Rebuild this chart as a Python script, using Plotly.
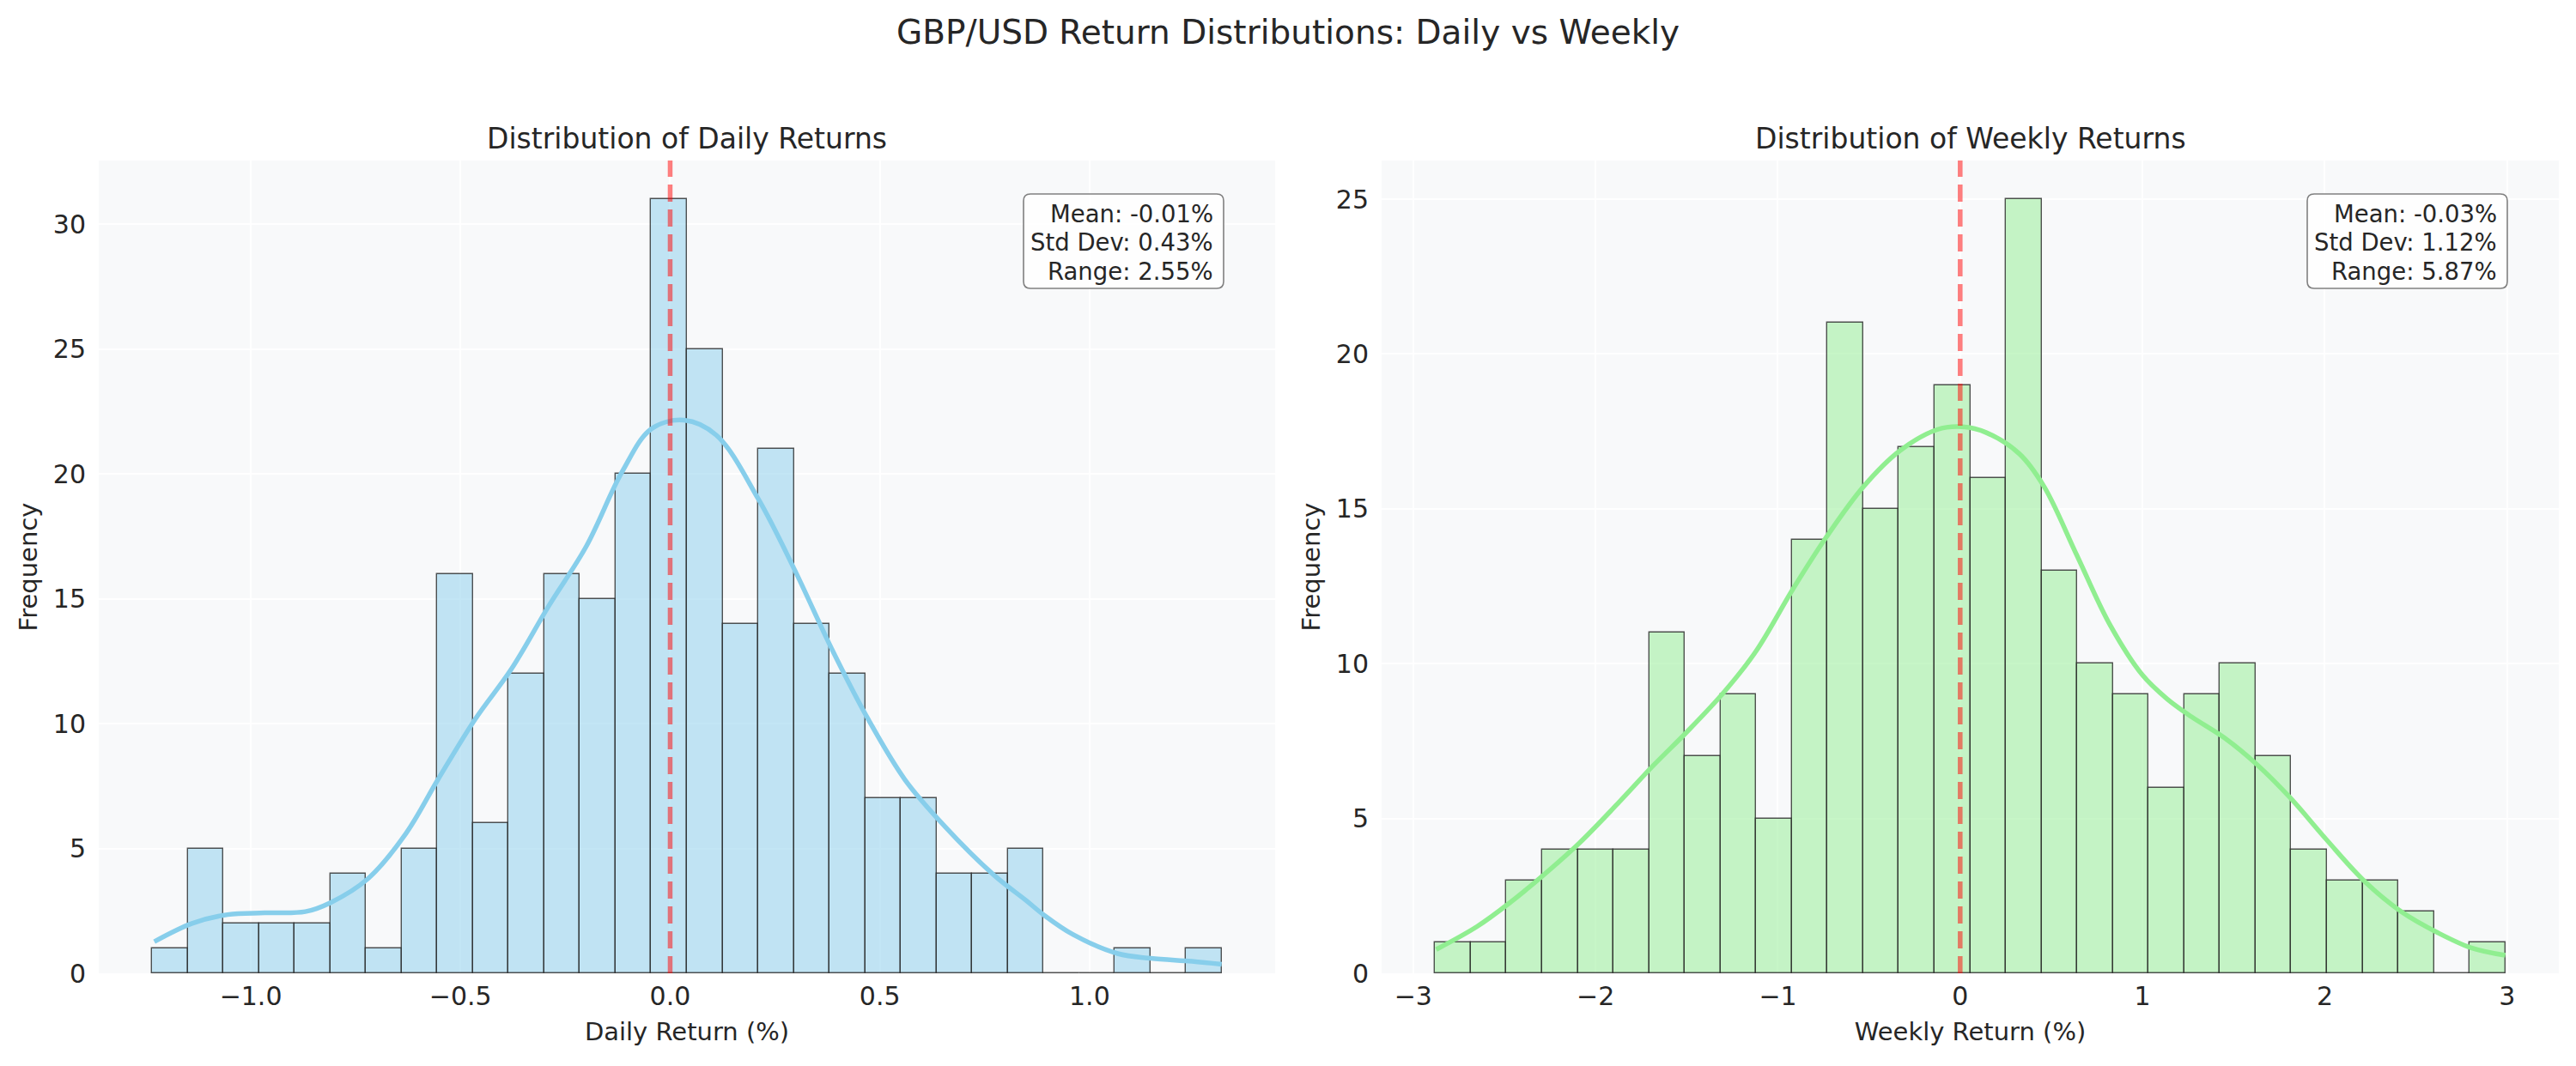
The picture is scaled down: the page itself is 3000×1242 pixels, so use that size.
import numpy as np
import plotly.graph_objects as go

# ---------------- data ----------------
daily_min, daily_max = -1.235, 1.315
daily_counts = [1, 5, 2, 2, 2, 4, 1, 5, 16, 6, 12, 16, 15, 20, 31, 25, 14, 21, 14, 12,
                7, 7, 4, 4, 5, 0, 0, 1, 0, 1]
weekly_min, weekly_max = -2.88, 2.99
weekly_counts = [1, 1, 3, 4, 4, 4, 11, 7, 9, 5, 14, 21, 15, 17, 19, 16, 25, 13, 10, 9,
                 6, 9, 10, 7, 4, 3, 3, 2, 0, 1]

daily_kde_x = [-1.23, -1.14, -1.055, -0.967, -0.87, -0.81, -0.72, -0.63, -0.554, -0.466,
               -0.378, -0.29, -0.20, -0.114, -0.045, 0.033, 0.11, 0.21, 0.297, 0.385,
               0.473, 0.56, 0.654, 0.771, 0.85, 0.89, 0.961, 1.067, 1.146, 1.244, 1.315]
daily_kde_y = [1.27, 2.0, 2.35, 2.42, 2.47, 2.83, 3.8, 5.6, 7.75, 10.15,
               12.2, 14.7, 17.1, 20.1, 21.8, 22.15, 21.55, 19.0, 16.15, 13.0,
               10.15, 7.75, 5.9, 3.95, 2.9, 2.35, 1.55, 0.79, 0.6, 0.48, 0.36]

weekly_kde_x = [-2.874, -2.65, -2.47, -2.29, -2.09, -1.88, -1.68, -1.50, -1.30, -1.12,
                -0.915, -0.735, -0.53, -0.33, -0.126, 0.01, 0.144, 0.324, 0.46, 0.64,
                0.82, 1.0, 1.135, 1.27, 1.45, 1.63, 1.81, 2.01, 2.22, 2.42, 2.62, 2.80, 2.99]
weekly_kde_y = [0.77, 1.51, 2.28, 3.15, 4.2, 5.47, 6.73, 7.79, 9.05, 10.4,
                12.43, 14.08, 15.72, 16.88, 17.56, 17.65, 17.46, 16.78, 15.72, 13.5,
                11.27, 9.63, 8.86, 8.28, 7.6, 6.73, 5.67, 4.31, 2.96, 1.99, 1.31, 0.83, 0.58]

daily_stats = ["Mean: -0.01%", "Std Dev: 0.43%", "Range: 2.55%"]
weekly_stats = ["Mean: -0.03%", "Std Dev: 1.12%", "Range: 5.87%"]

titles = ["Distribution of Daily Returns", "Distribution of Weekly Returns"]
xlabels = ["Daily Return (%)", "Weekly Return (%)"]
suptitle = "GBP/USD Return Distributions: Daily vs Weekly"

# ---------------- figure ----------------
W, H = 3000, 1242
ML, MR, MT, MB = 115, 20, 187, 108
pw = W - ML - MR
ph = H - MT - MB
FONT = "DejaVu Sans"
TXT = "#262626"
BG = "#F8F9FA"


def px_x(p):
    return (p - ML) / pw


def px_y(p):
    return (H - MB - p) / ph


dom1 = [0, px_x(1485)]
dom2 = [px_x(1609), 1]

fig = go.Figure()


def add_hist(vmin, vmax, counts, xa, ya, fill, line_color, kx, ky):
    edges = np.linspace(vmin, vmax, len(counts) + 1)
    centers = (edges[:-1] + edges[1:]) / 2
    width = edges[1] - edges[0]
    fig.add_trace(go.Bar(
        x=centers, y=counts, width=width, xaxis=xa, yaxis=ya,
        marker=dict(color=fill, line=dict(color="rgba(40,40,40,0.8)", width=1.4)),
        showlegend=False, hoverinfo="x+y"))
    fig.add_trace(go.Scatter(
        x=kx, y=ky, mode="lines", xaxis=xa, yaxis=ya,
        line=dict(color=line_color, width=5.5, shape="spline", smoothing=1.0),
        showlegend=False))


add_hist(daily_min, daily_max, daily_counts, "x", "y",
         "rgba(135,206,235,0.5)", "#87CEEB", daily_kde_x, daily_kde_y)
add_hist(weekly_min, weekly_max, weekly_counts, "x2", "y2",
         "rgba(144,238,144,0.5)", "#90EE90", weekly_kde_x, weekly_kde_y)

d_pad = 0.05 * (daily_max - daily_min)
w_pad = 0.05 * (weekly_max - weekly_min)

axis_common = dict(
    showline=False, zeroline=False, showgrid=True, gridcolor="#FFFFFF", gridwidth=2,
    tickfont=dict(family=FONT, size=30, color=TXT), ticks="", automargin=False,
)
lab_font = dict(family=FONT, size=29, color=TXT)

fig.update_layout(
    width=W, height=H,
    margin=dict(l=ML, r=MR, t=MT, b=MB, autoexpand=False),
    paper_bgcolor="white", plot_bgcolor=BG,
    bargap=0,
    font=dict(family=FONT, color=TXT),
    xaxis=dict(domain=dom1, anchor="y", range=[daily_min - d_pad, daily_max + d_pad],
               tickvals=[-1.0, -0.5, 0.0, 0.5, 1.0],
               ticktext=["\u22121.0", "\u22120.5", "0.0", "0.5", "1.0"],
               ticklabelstandoff=6,
               title=dict(text=xlabels[0], font=lab_font, standoff=14),
               **axis_common),
    yaxis=dict(domain=[0, 1], anchor="x", range=[0, max(daily_counts) * 1.05],
               tickvals=[0, 5, 10, 15, 20, 25, 30], ticklabelstandoff=14,
               title=dict(text="Frequency", font=lab_font, standoff=9),
               **axis_common),
    xaxis2=dict(domain=dom2, anchor="y2", range=[weekly_min - w_pad, weekly_max + w_pad],
                tickvals=[-3, -2, -1, 0, 1, 2, 3],
                ticktext=["\u22123", "\u22122", "\u22121", "0", "1", "2", "3"],
                ticklabelstandoff=6,
                title=dict(text=xlabels[1], font=lab_font, standoff=14),
                **axis_common),
    yaxis2=dict(domain=[0, 1], anchor="x2", range=[0, max(weekly_counts) * 1.05],
                tickvals=[0, 5, 10, 15, 20, 25], ticklabelstandoff=14,
                title=dict(text="Frequency", font=lab_font, standoff=9),
                **axis_common),
)

# mean lines (at zero)
for xr, yr in [("x", "y domain"), ("x2", "y2 domain")]:
    fig.add_shape(type="line", xref=xr, yref=yr,
                  x0=0, x1=0, y0=0, y1=1,
                  line=dict(color="rgba(255,0,0,0.5)", width=5.5, dash="20px,9px"),
                  layer="above")

# subplot titles
for i, (l, r) in enumerate([(115, 1485), (1609, 2980)]):
    fig.add_annotation(text=titles[i], xref="paper", yref="paper",
                       x=px_x((l + r) / 2), y=px_y(161),
                       xanchor="center", yanchor="middle", showarrow=False,
                       font=dict(family=FONT, size=33, color=TXT))


def rounded_rect(x0, y0, x1, y1, r):
    def P(x, y):
        return f"{px_x(x):.6f},{px_y(y):.6f}"
    return (f"M {P(x0 + r, y0)} L {P(x1 - r, y0)} Q {P(x1, y0)} {P(x1, y0 + r)} "
            f"L {P(x1, y1 - r)} Q {P(x1, y1)} {P(x1 - r, y1)} "
            f"L {P(x0 + r, y1)} Q {P(x0, y1)} {P(x0, y1 - r)} "
            f"L {P(x0, y0 + r)} Q {P(x0, y0)} {P(x0 + r, y0)} Z")


# stats boxes
for stats, (bx0, bx1) in [(daily_stats, (1192, 1425)), (weekly_stats, (2687, 2920))]:
    fig.add_shape(type="path", xref="paper", yref="paper",
                  path=rounded_rect(bx0, 226, bx1, 336, 8),
                  fillcolor="rgba(255,255,255,0.8)",
                  line=dict(color="#808080", width=1.6), layer="above")
    for j, s in enumerate(stats):
        fig.add_annotation(text=s, xref="paper", yref="paper",
                           x=px_x(bx1 - 10), y=px_y(249 + 33.4 * j),
                           xanchor="right", yanchor="middle", align="right",
                           showarrow=False,
                           font=dict(family=FONT, size=27.5, color=TXT))

# suptitle
fig.add_annotation(text=suptitle, xref="paper", yref="paper",
                   x=px_x(1500), y=px_y(38),
                   xanchor="center", yanchor="middle", showarrow=False,
                   font=dict(family=FONT, size=39, color=TXT))

fig.write_html("out.html", config={"displayModeBar": False},
               post_script="document.body.style.margin='0';document.body.style.overflow='hidden';")
